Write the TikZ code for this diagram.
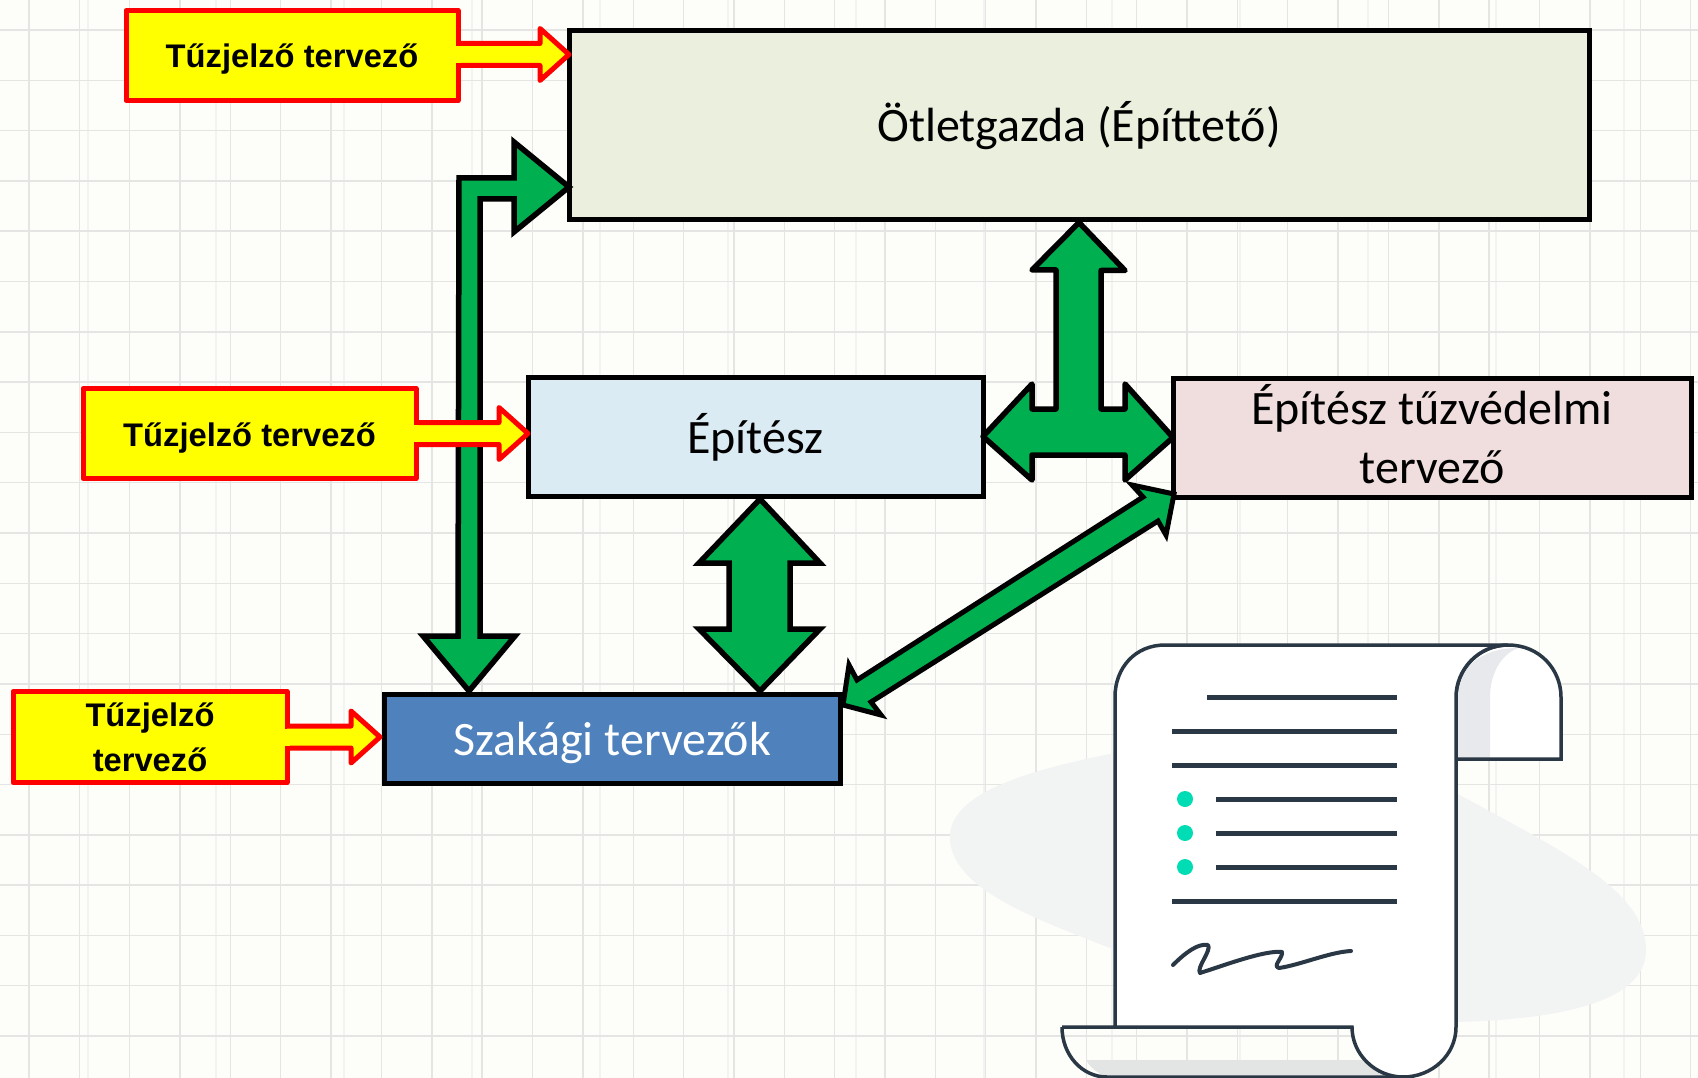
\documentclass[tikz,border=0pt]{standalone}
\usepackage{fontspec}
\setmainfont{Carlito}
\newfontfamily\yfont{Liberation Sans}[BoldFont={Liberation Sans Bold}]
\usetikzlibrary{calc}
\definecolor{bgc}{HTML}{FDFEFA}
\definecolor{gridc}{HTML}{E5E6E3}
\definecolor{gridf}{HTML}{F3F4F1}
\definecolor{blobc}{HTML}{F2F3F3}
\definecolor{scrollc}{HTML}{2A3744}
\definecolor{shadec}{HTML}{E8E9EC}
\definecolor{baseshade}{HTML}{E3E5E4}
\definecolor{dotc}{HTML}{00DDB5}
\definecolor{gr}{HTML}{00B050}
\definecolor{yel}{HTML}{FFFF00}
\definecolor{rd}{HTML}{FF0000}
\tikzset{
  x=1pt,y=-1pt,
  boxn/.style={draw=black,line width=5pt,minimum width=#1,inner sep=0pt,outer sep=0pt,align=center,font=\fontsize{48}{58.5}\selectfont,text=black},
  yelbox/.style={draw=rd,fill=yel,line width=5pt,line join=round,minimum width=#1,minimum height=90pt,inner sep=0pt,outer sep=0pt,align=center,font=\yfont\bfseries\fontsize{32.7}{45}\selectfont},
  garrow/.style={draw=black,fill=gr,line width=5.5pt,line join=round},
  garrowm/.style={draw=black,fill=gr,line width=5.5pt,line join=miter},
  sline/.style={draw=scrollc,line width=3.5pt},
  tline/.style={draw=scrollc,line width=5pt},
  gridl/.style={draw=gridc,line width=1.4pt},
  gridfaint/.style={draw=gridf,line width=1.4pt},
}
\newcommand{\yarrow}[2]{%
  \draw[draw=rd,fill=yel,line width=5pt,line join=round]
    ($(#1.east |- #2)+(0,-11)$) -- ($(#2)+(-29,-11)$) -- ($(#2)+(-29,-26)$) -- (#2)
    -- ($(#2)+(-29,26)$) -- ($(#2)+(-29,11)$) -- ($(#1.east |- #2)+(0,11)$);
  \fill[yel] ($(#1.east |- #2)+(-3,-8.5)$) rectangle ($(#1.east |- #2)+(3,8.5)$);
}
\begin{document}
\begin{tikzpicture}
\useasboundingbox (0,0) rectangle (1698,1078);
\fill[bgc] (0,0) rectangle (1698,1078);
% grid
\foreach \k in {0,...,12} { \draw[gridfaint] ({88+128*\k},0) -- ({88+128*\k},1078); }
\foreach \k in {0,...,33} { \draw[gridl] ({29+50.35*\k},0) -- ({29+50.35*\k},1078); }
\foreach \k in {0,...,20} { \draw[gridl] (0,{30+50.3*\k}) -- (1698,{30+50.3*\k}); }
% background blob
\fill[blobc] (950,837) .. controls (950,790) and (1040,768) .. (1115,753) -- (1456,793)
  .. controls (1560,850) and (1646,890) .. (1646,950) .. controls (1646,1010) and (1530,1020) .. (1456,1022)
  -- (1115,950) .. controls (1040,920) and (950,890) .. (950,837) -- cycle;
% scroll
\fill[white] (1456,645) -- (1508,645) .. controls (1540,645) and (1561,670) .. (1561,697) -- (1561,759) -- (1456,759) -- cycle;
\fill[shadec] (1456,759) -- (1456,697) .. controls (1456,670) and (1480,648) .. (1518,648) .. controls (1500,655) and (1490,675) .. (1490,697) -- (1490,759) -- cycle;
\draw[sline] (1456,697) .. controls (1456,670) and (1478,645) .. (1508,645) .. controls (1540,645) and (1561,670) .. (1561,697) -- (1561,759) -- (1456,759);
\fill[baseshade] (1086,1060) -- (1375,1060) .. controls (1383,1068) and (1392,1076) .. (1403,1077) -- (1107,1077) .. controls (1097,1073) and (1090,1067) .. (1086,1060) -- cycle;
\draw[sline] (1062,1027) .. controls (1062,1055) and (1082,1077) .. (1107,1077) -- (1403,1077);
\draw[sline,fill=white] (1115,1027) -- (1115,697) .. controls (1115,668) and (1135,645) .. (1165,645) -- (1508,645)
  .. controls (1478,645) and (1456,670) .. (1456,697) -- (1456,1027) .. controls (1456,1055) and (1432,1077) .. (1403,1077)
  .. controls (1376,1077) and (1352,1055) .. (1352,1027) -- (1062,1027);
\foreach \yy/\xx in {697/1207,731/1172,765/1172,799/1216,833/1216,867/1216,901/1172} { \draw[tline] (\xx,\yy) -- (1397,\yy); }
\foreach \yy in {799,833,867} { \fill[dotc] (1185,\yy) circle (8); }
\draw[draw=scrollc,line width=4pt,line cap=round,line join=round] (1173,965) .. controls (1185,953) and (1198,943) .. (1208,945) .. controls (1212,950) and (1196,968) .. (1200,973)
  .. controls (1225,965) and (1265,950) .. (1282,952) .. controls (1283,958) and (1272,966) .. (1279,968) .. controls (1300,965) and (1330,952) .. (1351,951);
% nodes
\node[boxn=1020pt,minimum height=189pt,fill={rgb,255:red,235;green,240;blue,222}] (otlet) at (1079,125) {\rule{0pt}{41.7pt}Ötletgazda (Építtető)};
\node[boxn=455pt,minimum height=119pt,fill={rgb,255:red,218;green,235;blue,243}] (epitesz) at (755.5,436.5) {\rule{0pt}{41.7pt}Építész};
\node[boxn=518pt,minimum height=119pt,fill={rgb,255:red,240;green,222;blue,222}] (tuz) at (1432,437.5) {Építész tűzvédelmi\\tervező\rule[-7pt]{0pt}{7pt}};
\node[boxn=456pt,minimum height=89pt,fill={rgb,255:red,79;green,129;blue,189},text=white] (szak) at (612,738.5) {\rule{0pt}{42.8pt}Szakági tervezők};
% green arrows
\coordinate (gt) at (otlet.west |- 0,187);
\coordinate (gb) at (469,691);
\draw[garrowm] (gt) -- ++(-55,-45) -- ++(0,36) -- ++(-55,0) -- (458,636) -- (423,636) -- (gb) -- (515,636) -- (480,636) -- (480,199) -- (514,199) -- (514,232) -- cycle;
\coordinate (ttop) at ($(otlet.south)+(0,3)$);
\draw[garrow] (ttop) -- ++(46,48) -- ++(-24,0) -- (1101,409) -- (1125,409) -- (1125,384) -- (tuz.west) -- (1125,480) -- (1125,455) -- (1032,455) -- (1032,480) -- (epitesz.east) -- (1032,384) -- (1032,409) -- (1056,409) -- (1056,270) -- (1032,270) -- cycle;
\coordinate (vt) at (760,499);
\coordinate (vb) at (760,691);
\draw[garrow,line join=miter] (vt) -- (820,563) -- (790,563) -- (790,629) -- (820,629) -- (vb) -- (699,629) -- (729,629) -- (729,563) -- (699,563) -- cycle;
\coordinate (dt) at (1174,494);
\coordinate (db) at (843,705);
\draw[garrow,line width=5pt,line join=miter] (dt) -- (1166,535) -- (1158,521) -- (871,702) -- (881,715) -- (db) -- (849,665) -- (857,680) -- (1143,497) -- (1132,485) -- cycle;
% yellow boxes
\node[yelbox=332pt] (y1) at (292,55.5) {\rule{0pt}{31pt}Tűzjelző tervező};
\node[yelbox=333pt] (y2) at (249.5,433.5) {\rule{0pt}{33pt}Tűzjelző tervező};
\node[yelbox=274pt,minimum height=91pt] (y3) at (150,737) {Tűzjelző\\tervező};
\coordinate (t1) at ($(otlet.west |- y1.east)+(0,-1)$);
\coordinate (t2) at (epitesz.west |- y2.east);
\coordinate (t3) at ($(szak.west |- y3.east)+(-4,0)$);
\yarrow{y1}{t1}
\yarrow{y2}{t2}
\yarrow{y3}{t3}
\end{tikzpicture}
\end{document}
